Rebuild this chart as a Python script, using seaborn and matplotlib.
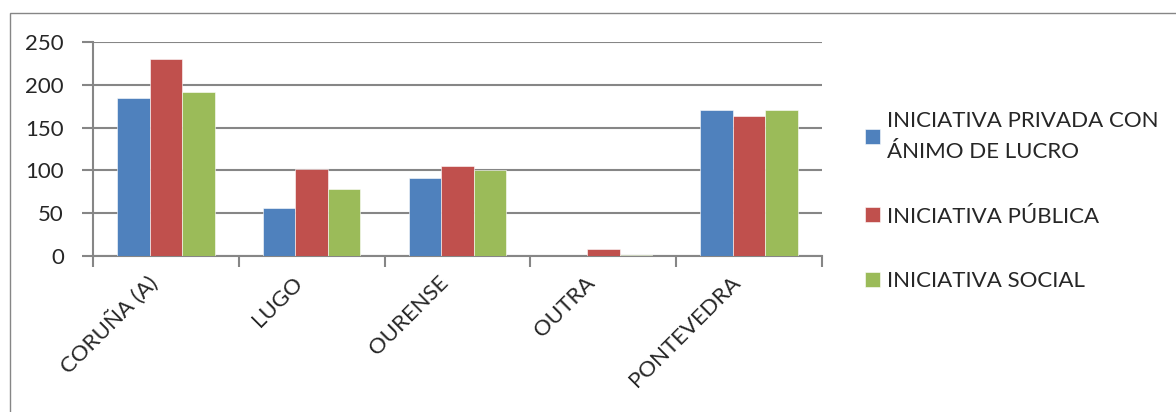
import numpy as np
import pandas as pd
import matplotlib.pyplot as plt
import matplotlib.transforms as mtransforms
from matplotlib.patches import Rectangle
import seaborn as sns

# Datos leidos do grafico
provincias = ["CORUÑA (A)", "LUGO", "OURENSE", "OUTRA", "PONTEVEDRA"]
tipos = ["INICIATIVA PRIVADA CON\nÁNIMO DE LUCRO", "INICIATIVA PÚBLICA",
         "INICIATIVA SOCIAL"]
privada = [185, 56, 91, 0, 170]
publica = [230, 102, 105, 8, 163]
social = [192, 78, 101, 1, 171]
yticks = [0, 50, 100, 150, 200, 250]

colores = ["#4F81BD", "#C0504D", "#9BBB59"]
gris = "#868686"

df = pd.DataFrame({"provincia": provincias * 3,
                   "tipo": np.repeat(tipos, len(provincias)),
                   "valor": privada + publica + social})

sns.set_style("white")
plt.rcParams["font.family"] = ["Lato", "DejaVu Sans"]

W, H = 1176, 412
fs = 16
fig = plt.figure(figsize=(W / 100, H / 100), dpi=100)
ax = fig.add_axes([93 / W, 1 - 256 / H, 729 / W, 214 / H])

sns.barplot(data=df, x="provincia", y="valor", hue="tipo", palette=colores,
            width=0.667, gap=0, saturation=1, errorbar=None,
            edgecolor="white", linewidth=0.4, ax=ax)
for p in ax.patches:
    p.set_zorder(3)

ax.set_xlim(-0.5, len(provincias) - 0.5)
ax.set_ylim(0, 250)
ax.set_yticks(yticks)
ax.set_xlabel("")
ax.set_ylabel("")
ax.set_axisbelow(True)
ax.yaxis.grid(True, color=gris, linewidth=1.5)
for s in ["top", "right"]:
    ax.spines[s].set_visible(False)
for s in ["left", "bottom"]:
    ax.spines[s].set_color(gris)
    ax.spines[s].set_linewidth(1.5)

ax.tick_params(axis="y", length=8, width=1.5, color=gris, pad=13,
               labelsize=fs, left=True)
ax.set_xticks(np.arange(-0.5, len(provincias)), minor=True)
ax.tick_params(axis="x", which="minor", length=8, width=1.5, color=gris,
               bottom=True)
ax.tick_params(axis="x", which="major", length=0, pad=17, labelsize=fs)

offset = mtransforms.ScaledTranslation(-0.12, 0, fig.dpi_scale_trans)
for lbl in ax.get_xticklabels():
    lbl.set_rotation(45)
    lbl.set_ha("right")
    lbl.set_va("center")
    lbl.set_rotation_mode("anchor")
    lbl.set_transform(lbl.get_transform() + offset)

handles, labels = ax.get_legend_handles_labels()
ax.get_legend().remove()
leg = fig.legend(handles, labels, loc="upper left",
                 bbox_to_anchor=(865 / W, 1 - 111 / H), frameon=False,
                 fontsize=fs, handlelength=0.68, handleheight=0.68,
                 handletextpad=0.32, labelspacing=2.0, borderpad=0,
                 borderaxespad=0)
for t in leg.get_texts():
    t.set_linespacing(1.7)

# marco do grafico (cortado pola dereita e por abaixo)
fig.add_artist(Rectangle((10 / W, -0.1), 1.2, 1.1 - 13 / H,
                         transform=fig.transFigure, fill=False,
                         edgecolor=gris, linewidth=1))

fig.savefig("out.png", dpi=100)
